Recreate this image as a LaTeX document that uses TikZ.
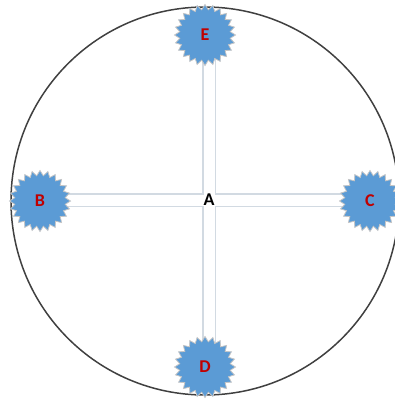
\documentclass[tikz,border=0pt]{standalone}
\usepackage{fontspec}
\setmainfont{Carlito}
\usetikzlibrary{shapes.geometric,backgrounds}
\definecolor{starblue}{HTML}{5B9BD5}
\definecolor{labelred}{HTML}{C00000}
\definecolor{barline}{HTML}{D2DAE2}

\begin{document}
\begin{tikzpicture}[x=1pt, y=-1pt,
	every node/.style={font=\bfseries\fontsize{18}{20}\selectfont},
	burst/.style={star, star points=24, star point ratio=1.2, minimum size=61pt, inner sep=0pt, fill=starblue, draw=gray!45, line width=0.8pt, text=labelred}]
	\useasboundingbox (0,0) rectangle (395,399);
	\node (A) at (209,200) {A};
	\node[burst] (E) at (205,35) {E};
	\node[burst] (B) at (40,201) {B};
	\node[burst] (C) at (370,201) {C};
	\node[burst] (D) at (205,367) {D};
	\begin{scope}[on background layer]
		\draw[line width=1.5pt, black!75] (205,201) circle (194pt);
		% cross bars: grey edges first, white inside after
		\foreach \s in {B,C} \draw[line width=13.5pt, barline] (A.center) -- (A.center -| \s.center);
		\foreach \s in {D,E} \draw[line width=13.5pt, barline] (A.center) -- (A.center |- \s.center);
		\foreach \s in {B,C} \draw[line width=11pt, white] (A.center) -- (A.center -| \s.center);
		\foreach \s in {D,E} \draw[line width=11pt, white] (A.center) -- (A.center |- \s.center);
	\end{scope}
\end{tikzpicture}
\end{document}
